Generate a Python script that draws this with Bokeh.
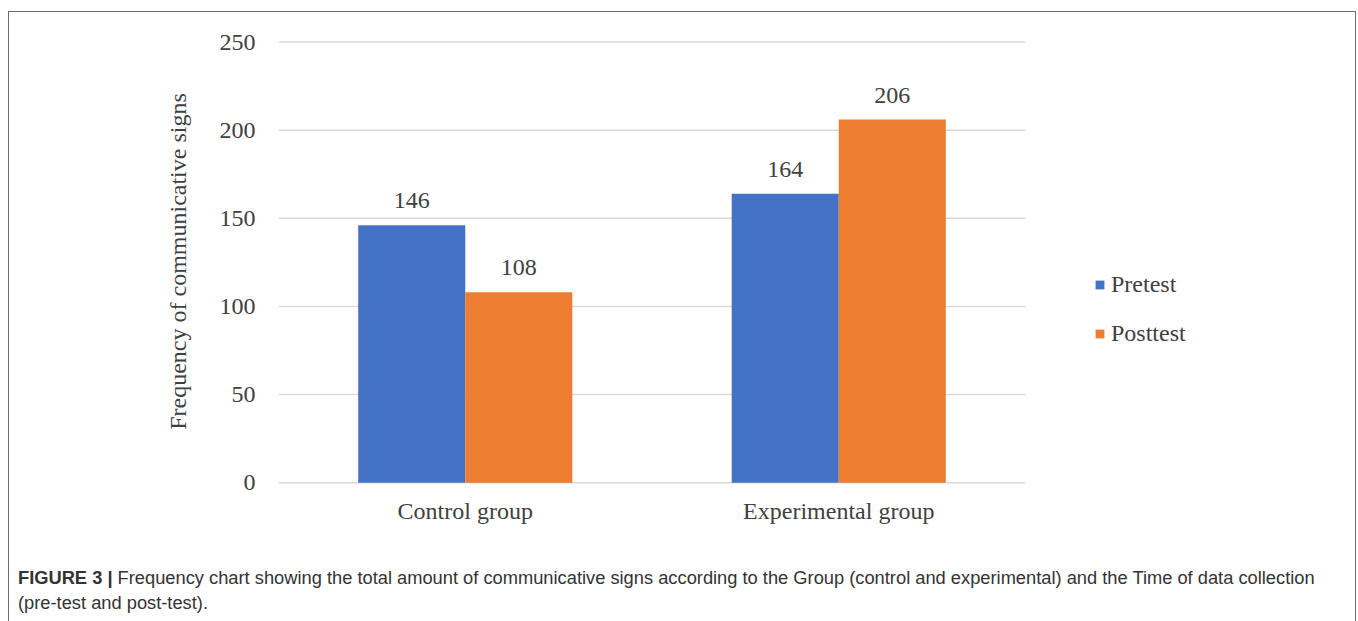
from bokeh.plotting import figure
from bokeh.models import ColumnDataSource, Range1d, LabelSet, Legend, LegendItem, Div, FixedTicker
from bokeh.transform import dodge
from bokeh.layouts import column
from bokeh.embed import file_html
from bokeh.resources import INLINE

# ---- data ----
groups = ["Control group", "Experimental group"]
series = ["Pretest", "Posttest"]
pretest = [146, 164]
posttest = [108, 206]
y_ticks = [0, 50, 100, 150, 200, 250]
y_title = "Frequency of communicative signs"
caption_bold = "FIGURE 3 |"
caption_line1 = ("Frequency chart showing the total amount of communicative signs according to the "
                 "Group (control and experimental) and the Time of data collection")
caption_line2 = "(pre-test and post-test)."

colors = ["#4472C4", "#ED7D31"]
TXT = "#404040"
SERIF = "Liberation Serif"

# category centres on a numeric axis (one unit per group)
centres = [i + 0.5 for i in range(len(groups))]
n_groups = len(groups)

src = ColumnDataSource(dict(
    xc=centres,
    pre=pretest,
    post=posttest,
    pre_t=[str(v) for v in pretest],
    post_t=[str(v) for v in posttest],
))
grid_src = ColumnDataSource(dict(
    x0=[0] * len(y_ticks), x1=[n_groups] * len(y_ticks), y=y_ticks,
))

W, LEFT, RIGHT = 1346, 269, 0
frame_w = W - LEFT - RIGHT
unit_px = 373.5  # pixel width of one group
p = figure(
    x_range=Range1d(0, frame_w / unit_px),
    y_range=Range1d(-1, 252),
    width=W, height=548,
    output_backend="svg", toolbar_location=None,
    min_border_left=LEFT, min_border_right=RIGHT,
    min_border_top=26, min_border_bottom=76,
)
p.outline_line_color = None
p.background_fill_color = "white"
p.border_fill_color = "white"
p.xgrid.grid_line_color = None
p.ygrid.grid_line_color = None

# horizontal gridlines across the group area only
p.segment(x0="x0", x1="x1", y0="y", y1="y", source=grid_src,
          line_color="#d9d9d9", line_width=1.5)

bw = 0.2866
off = bw / 2
r1 = p.vbar(x=dodge("xc", -off), top="pre", width=bw, source=src,
            fill_color=colors[0], line_color=None)
r2 = p.vbar(x=dodge("xc", off), top="post", width=bw, source=src,
            fill_color=colors[1], line_color=None)

for col, txt, o in (("pre", "pre_t", -off), ("post", "post_t", off)):
    ls = LabelSet(x=dodge("xc", o), y=col, text=txt, source=src,
                  text_align="center", text_baseline="alphabetic", y_offset=17,
                  text_font=SERIF, text_font_size="24px", text_color=TXT)
    p.add_layout(ls)

# y axis
p.yaxis.ticker = y_ticks
p.yaxis.axis_line_color = None
p.yaxis.major_tick_line_color = None
p.yaxis.minor_tick_line_color = None
p.yaxis.major_label_standoff = 17
p.yaxis.major_label_text_font = SERIF
p.yaxis.major_label_text_font_size = "24px"
p.yaxis.major_label_text_color = TXT
p.yaxis.axis_label = y_title
p.yaxis.axis_label_text_font = SERIF
p.yaxis.axis_label_text_font_size = "24px"
p.yaxis.axis_label_text_font_style = "normal"
p.yaxis.axis_label_text_color = TXT
p.yaxis.axis_label_standoff = 26

# x axis
p.xaxis.ticker = FixedTicker(ticks=centres)
p.xaxis.major_label_overrides = {c: g for c, g in zip(centres, groups)}
p.xaxis.axis_line_color = None
p.xaxis.major_tick_line_color = None
p.xaxis.minor_tick_line_color = None
p.xaxis.major_label_standoff = 7
p.xaxis.major_label_text_font = SERIF
p.xaxis.major_label_text_font_size = "24px"
p.xaxis.major_label_text_color = TXT

legend = Legend(
    items=[LegendItem(label=series[0], renderers=[r1]), LegendItem(label=series[1], renderers=[r2])],
    location=(816, 137),
    glyph_width=11, glyph_height=11,
    label_standoff=6, spacing=22,
    label_text_font=SERIF, label_text_font_size="24px", label_text_color=TXT,
    border_line_color=None, background_fill_alpha=0,
    padding=10, margin=0,
)
p.add_layout(legend, "center")

cap = Div(
    text=(f'<span style="font-weight:bold">{caption_bold}</span> {caption_line1}<br>{caption_line2}'),
    width=1346, height=53,
    styles={"font-family": "Liberation Sans", "font-size": "18.3px", "color": "#333333",
            "line-height": "25px", "padding-left": "4px", "overflow": "hidden"},
)

layout = column(p, cap, margin=(11, 0, 0, 8), width=1348, sizing_mode="fixed",
                styles={"border-left": "1px solid #6b6b6b", "border-right": "1px solid #6b6b6b",
                        "border-top": "1px solid #6b6b6b"})

open("out.html", "w").write(file_html(layout, INLINE))
